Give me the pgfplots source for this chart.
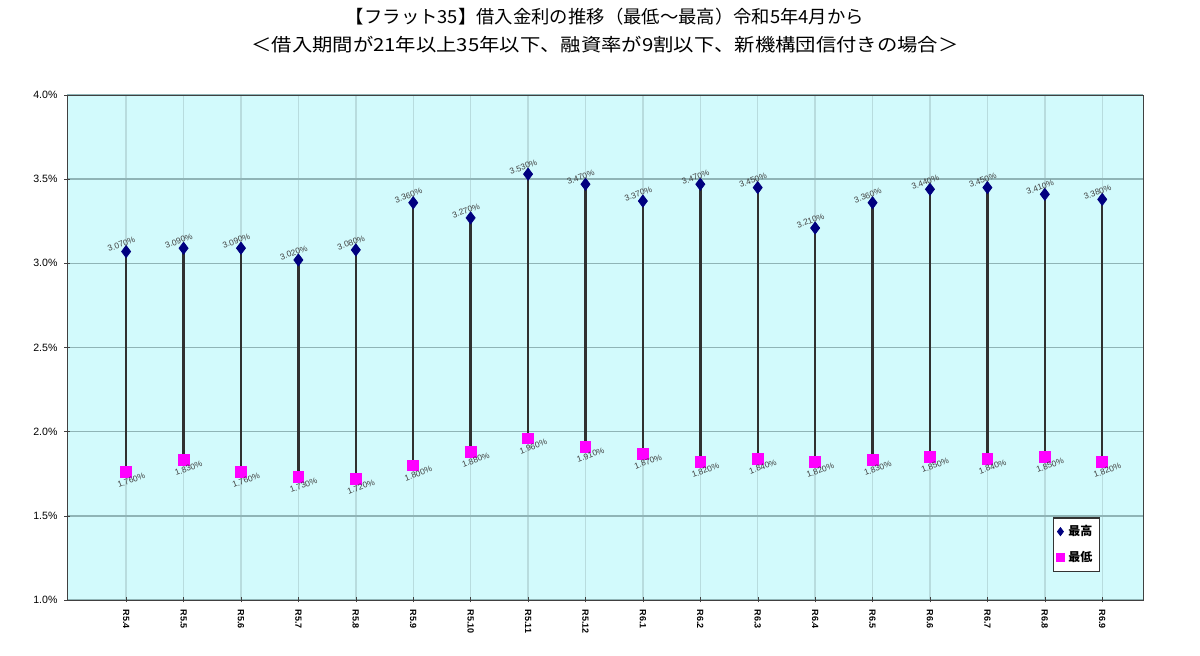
\documentclass[border=0pt]{standalone}
\usepackage{fontspec}
\setmainfont{Liberation Sans}
\newfontfamily\jp{Noto Sans CJK JP}
\usepackage{pgfplots}
\pgfplotsset{compat=1.18}
\usepackage{pgfplotstable}

\definecolor{plotbg}{HTML}{D2FAFC}
\definecolor{hicol}{HTML}{000080}
\definecolor{locol}{HTML}{FF00FF}
\definecolor{stemcol}{HTML}{303030}
\definecolor{hgrid}{HTML}{8FB4B6}
\definecolor{vgrid}{HTML}{B8DCDE}

% index, lowest rate, highest rate (%)
\pgfplotstableread{
x  lo    hi
0  1.76  3.07
1  1.83  3.09
2  1.76  3.09
3  1.73  3.02
4  1.72  3.08
5  1.80  3.36
6  1.88  3.27
7  1.96  3.53
8  1.91  3.47
9  1.87  3.37
10 1.82  3.47
11 1.84  3.45
12 1.82  3.21
13 1.83  3.36
14 1.85  3.44
15 1.84  3.45
16 1.85  3.41
17 1.82  3.38
}\rates

\begin{document}
\begin{tikzpicture}
\begin{axis}[
    name=ax,
    scale only axis,
    width=538pt, height=252.5pt,
    xmin=-1.03, xmax=17.71,
    ymin=1, ymax=4,
    clip=false,
    axis background/.style={fill=plotbg},
    axis line style={black!75},
    /pgf/number format/assume math mode=true,
    ytick={1,1.5,2,2.5,3,3.5,4},
    yticklabel={\pgfmathprintnumber[fixed,fixed zerofill,precision=1]{\tick}\%},
    yticklabel style={font=\fontsize{5.3}{5.3}\selectfont},
    xtick={0,...,17},
    xticklabels={R5.4,R5.5,R5.6,R5.7,R5.8,R5.9,R5.10,R5.11,R5.12,R6.1,R6.2,R6.3,R6.4,R6.5,R6.6,R6.7,R6.8,R6.9},
    xticklabel style={font=\bfseries\fontsize{4.5}{4.5}\selectfont, rotate=-90, anchor=west},
    tick pos=left,
    tick align=center,
    major tick length=2.5pt,
    tick style={black!75},
    grid=major,
    y grid style={hgrid, line width=0.7pt},
    x grid style={vgrid, line width=0.7pt},
    legend style={at={(0.916,0.164)}, anchor=north west, draw=black!80, line width=0.8pt,
        fill=white, font=\jp\bfseries\fontsize{6}{6}\selectfont, inner sep=1.5pt,
        row sep=2.5pt, cells={anchor=west}},
    legend image post style={line width=0.4pt, mark size=2pt},
]
% high-low lines
\addplot[forget plot, draw=none, mark=none,
    error bars/.cd, y dir=plus, y explicit,
    error mark=none, error bar style={stemcol, line width=1.2pt}]
    table[x=x, y=lo, y error plus expr=\thisrow{hi}-\thisrow{lo}] {\rates};
% highest
\addplot[only marks, mark=diamond*, mark size=3pt, color=hicol,
    point meta=y,
    nodes near coords={\pgfmathprintnumber[fixed,fixed zerofill,precision=3]{\pgfplotspointmeta}\%},
    every node near coord/.append style={font=\fontsize{4.2}{4.2}\selectfont, text=black!75,
        rotate=20, anchor=south, yshift=1.5pt, xshift=-1pt, inner sep=1pt}]
    table[x=x, y=hi] {\rates};
\addlegendentry{最高}
% lowest
\addplot[only marks, mark=square*, mark size=2.7pt, color=locol,
    point meta=y,
    nodes near coords={\pgfmathprintnumber[fixed,fixed zerofill,precision=3]{\pgfplotspointmeta}\%},
    every node near coord/.append style={font=\fontsize{4.2}{4.2}\selectfont, text=black!75,
        rotate=20, anchor=north, yshift=-2pt, xshift=1pt, inner sep=1pt}]
    table[x=x, y=lo] {\rates};
\addlegendentry{最低}
\end{axis}
\node[font=\jp\fontsize{9}{9}\selectfont, xscale=1.02] at ([yshift=39pt]ax.north)
    {【フラット35】借入金利の推移（最低～最高）令和5年4月から};
\node[font=\jp\fontsize{9}{9}\selectfont, xscale=1.13] at ([yshift=25pt]ax.north)
    {＜借入期間が21年以上35年以下、融資率が9割以下、新機構団信付きの場合＞};
\path ([xshift=-33.5pt,yshift=-28pt]ax.south west) rectangle ([xshift=28.5pt,yshift=47.5pt]ax.north east);
\end{tikzpicture}
\end{document}
